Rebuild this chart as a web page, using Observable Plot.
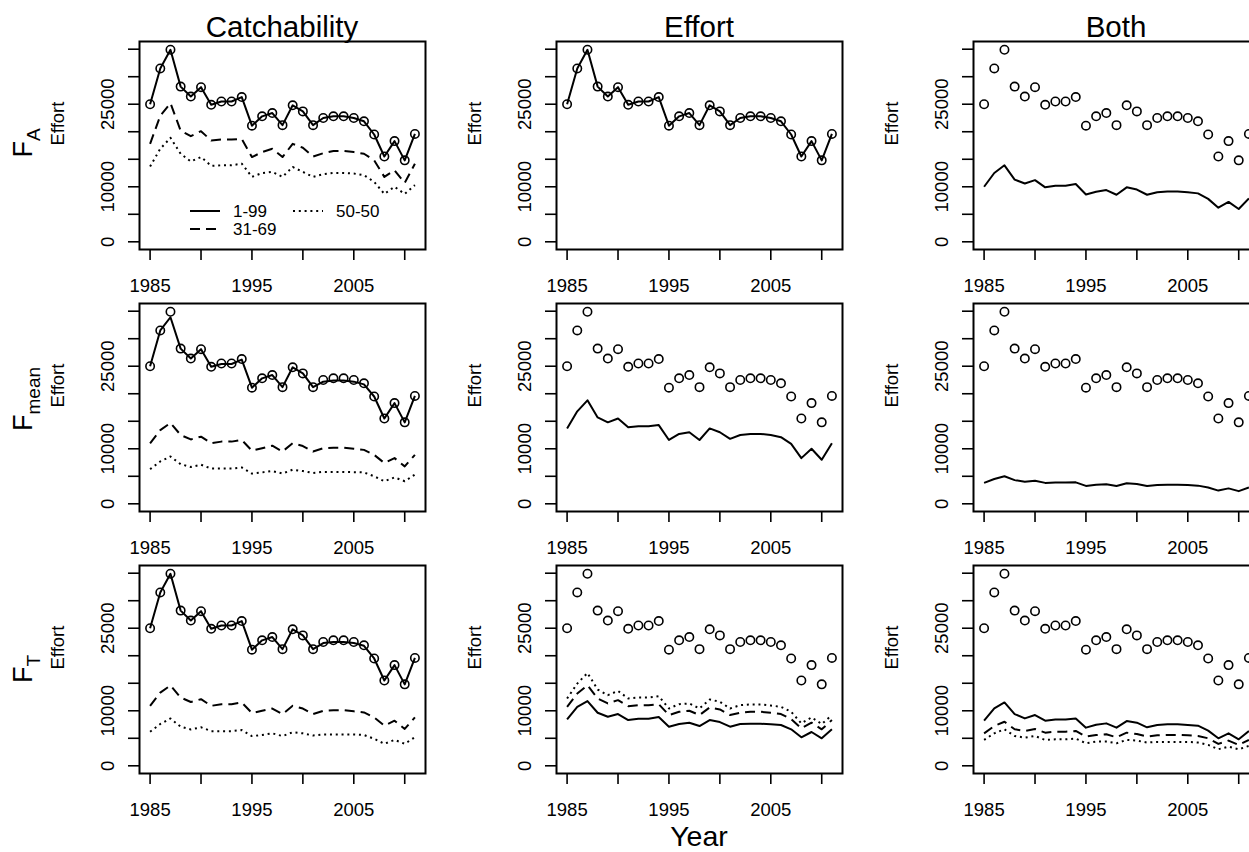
<!DOCTYPE html>
<html>
<head>
<meta charset="utf-8">
<script src="https://cdn.jsdelivr.net/npm/d3@7"></script>
<script src="https://cdn.jsdelivr.net/npm/@observablehq/plot@0.6"></script>
<style>
html, body { margin: 0; padding: 0; background: #fff; overflow: hidden; }
#wrap { position: relative; width: 1249px; height: 852px; overflow: hidden; background: #fff; }
.panel { position: absolute; }
.panel svg { max-width: none !important; }
#overlay { position: absolute; left: 0; top: 0; }
</style>
</head>
<body>
<div id="wrap"></div>
<script>
// ---------------- data ----------------
const years = [1985,1986,1987,1988,1989,1990,1991,1992,1993,1994,1995,1996,1997,1998,1999,2000,2001,2002,2003,2004,2005,2006,2007,2008,2009,2010,2011];

// observed effort (circles)
const effort = [25000,31500,34900,28200,26400,28100,24900,25500,25500,26300,21100,22800,23400,21200,24800,23700,21200,22500,22800,22800,22500,21900,19500,15500,18300,14800,19600];

// row F_A
const catchA_1_99  = [25000,31500,34900,28200,26400,28100,24900,25500,25500,26300,21100,22800,23400,21200,24800,23700,21200,22500,22800,22800,22500,21900,19500,15500,18300,14800,19600];
const catchA_31_69 = [17800,22900,25200,20200,19200,20100,18400,18600,18600,18700,15400,16300,16900,15400,17800,17100,15500,16100,16500,16500,16300,16000,14800,11800,13000,10700,14200];
const catchA_50_50 = [13700,16900,18900,16000,14600,15400,13800,13900,13900,14200,11800,12500,12700,11800,13600,12700,11800,12300,12500,12500,12400,12100,10900,8700,10000,8700,10300];
const effA_1_99    = [25000,31500,34900,28200,26400,28100,24900,25500,25500,26300,21100,22800,23400,21200,24800,23700,21200,22500,22800,22800,22500,21900,19500,15500,18300,14800,19600];
const bothA_1_99   = [10000,12500,13900,11300,10600,11200,9900,10200,10200,10500,8600,9100,9400,8550,9900,9500,8550,9000,9150,9150,9000,8800,7800,6200,7250,5950,7900];

// row F_mean
const catchM_1_99  = [25000,31500,33900,28200,26400,28100,24900,25400,25400,26200,21100,22800,23400,21200,24800,23700,21200,22200,22400,22400,22200,21700,19500,15500,18300,14800,19600];
const catchM_31_69 = [11000,13400,14700,12500,11700,12200,11000,11300,11300,11600,9650,10100,10550,9500,11000,10500,9500,10100,10200,10200,10000,9800,8900,7400,8300,6800,8900];
const catchM_50_50 = [6300,7700,8600,7200,6700,7100,6400,6400,6400,6600,5500,5700,5950,5500,6200,5950,5600,5800,5800,5800,5750,5700,5000,4100,4800,4100,5300];
const effM_1_99    = [13700,16800,18800,15700,14800,15500,13900,14100,14100,14300,11600,12700,13000,11600,13700,13000,11800,12500,12700,12700,12500,12100,10900,8300,10000,8000,11000];
const bothM_1_99   = [3800,4500,5000,4300,4000,4200,3800,3850,3850,3900,3250,3450,3550,3250,3750,3600,3250,3400,3450,3450,3400,3300,2950,2400,2800,2300,2950];

// row F_T
const catchT_1_99  = [25000,31500,34900,28200,26400,28100,24900,25500,25500,26300,21100,22800,23400,21200,24800,23700,21200,22300,22500,22500,22300,21800,19500,15500,18300,14800,19600];
const catchT_31_69 = [10900,13300,14600,12400,11600,12100,10900,11200,11200,11500,9600,10000,10400,9400,10900,10400,9400,10000,10100,10100,9900,9700,8800,7300,8200,6700,8800];
const catchT_50_50 = [6200,7600,8600,7100,6600,7000,6300,6300,6300,6500,5400,5600,5900,5400,6100,5900,5500,5700,5700,5700,5700,5600,4900,4000,4700,4000,5200];
const effT_1_99    = [8430,10720,11750,9640,8920,9400,8310,8550,8550,8860,7110,7590,7830,7230,8310,7950,7110,7590,7650,7650,7530,7410,6630,5180,6140,5000,6630];
const effT_31_69   = [10720,13130,14640,12230,11330,11930,10840,11020,11020,11200,9220,9820,10000,9220,10600,10240,9220,9640,9820,9820,9640,9400,8490,6810,7830,6630,8310];
const effT_50_50   = [12230,14940,16870,13860,12830,13610,12230,12410,12410,12650,10420,11200,11330,10420,12050,11630,10420,11020,11140,11140,10960,10720,9820,7710,8800,7590,9220];
const bothT_1_99   = [8190,10420,11510,9400,8610,9220,8190,8430,8430,8610,6930,7470,7710,6930,8130,7830,6990,7410,7530,7530,7410,7290,6390,5000,5900,4820,6330];
const bothT_31_69  = [5900,7230,8010,6630,6330,6690,6020,6200,6200,6330,5300,5600,5720,5180,6020,5780,5300,5540,5600,5600,5540,5420,5000,3980,4580,3800,4700];
const bothT_50_50  = [4700,5900,6630,5420,5120,5420,4700,4820,4820,4940,4100,4400,4400,4100,4700,4580,4220,4340,4340,4340,4340,4220,3800,3010,3490,3010,3610];

// labels and ticks
const colTitles = ["Catchability", "Effort", "Both"];
const rowMain = ["F", "F", "F"];
const rowSub = ["A", "mean", "T"];
const yLabelText = "Effort";
const xLabelText = "Year";
const legendLabels = ["1-99", "31-69", "50-50"];
const xTicks = [1985, 1990, 1995, 2000, 2005, 2010];
const xTickLabels = [1985, 1995, 2005];
const yTicks = [0, 5000, 10000, 15000, 20000, 25000, 30000, 35000];
const yTickLabels = [0, 10000, 25000];

const panels = [
  {row: 0, col: 0, lines: [["1-99", catchA_1_99], ["31-69", catchA_31_69], ["50-50", catchA_50_50]]},
  {row: 0, col: 1, lines: [["1-99", effA_1_99]]},
  {row: 0, col: 2, lines: [["1-99", bothA_1_99]]},
  {row: 1, col: 0, lines: [["1-99", catchM_1_99], ["31-69", catchM_31_69], ["50-50", catchM_50_50]]},
  {row: 1, col: 1, lines: [["1-99", effM_1_99]]},
  {row: 1, col: 2, lines: [["1-99", bothM_1_99]]},
  {row: 2, col: 0, lines: [["1-99", catchT_1_99], ["31-69", catchT_31_69], ["50-50", catchT_50_50]]},
  {row: 2, col: 1, lines: [["1-99", effT_1_99], ["31-69", effT_31_69], ["50-50", effT_50_50]]},
  {row: 2, col: 2, lines: [["1-99", bothT_1_99], ["31-69", bothT_31_69], ["50-50", bothT_50_50]]}
];

// ---------------- layout / style ----------------
const FONT = "'Liberation Sans', Arial, Helvetica, sans-serif";
const boxLeft = [139, 556, 973];
const boxTop = [41, 303, 565];
const BW = 286, BH = 208;
const ML = 100, MT = 6, MR = 8, MB = 56;
const dashFor = {"1-99": null, "31-69": "10,6", "50-50": "2,3.8"};

const wrap = document.getElementById("wrap");
const obs = years.map((y, i) => ({year: y, value: effort[i]}));

panels.forEach(p => {
  const marks = [];
  p.lines.forEach(([name, vals]) => {
    const rows = years.map((y, i) => ({year: y, value: vals[i]}));
    marks.push(Plot.line(rows, {
      x: "year", y: "value", stroke: "black", strokeWidth: 2,
      strokeDasharray: dashFor[name], strokeLinecap: "butt", strokeLinejoin: "round"
    }));
  });
  marks.push(Plot.dot(obs, {x: "year", y: "value", r: 4.2, stroke: "black", strokeWidth: 1.6, fill: "none"}));
  marks.push(Plot.frame({stroke: "black", strokeWidth: 2}));
  // tick marks (labels drawn separately so their size is controlled)
  marks.push(Plot.axisX({ticks: xTicks, tickFormat: () => "", tickSize: 11, strokeWidth: 1.6, label: null}));
  marks.push(Plot.axisY({ticks: yTicks, tickFormat: () => "", tickSize: 11, strokeWidth: 1.6, label: null}));
  // tick labels, placed through the scales
  marks.push(Plot.text(xTickLabels, {
    x: d => d, text: d => String(d), frameAnchor: "bottom", lineAnchor: "top",
    dy: 29, fontSize: 18.5, fill: "black"
  }));
  marks.push(Plot.text(yTickLabels, {
    y: d => d, text: d => String(d), frameAnchor: "left", lineAnchor: "bottom",
    textAnchor: "middle", rotate: -90, dx: -26, fontSize: 18.5, fill: "black"
  }));
  marks.push(Plot.text([yLabelText], {text: d => d, frameAnchor: "left", rotate: -90, dx: -81, fontSize: 18.5}));

  const svg = Plot.plot({
    width: ML + BW + MR,
    height: MT + BH + MB,
    marginLeft: ML, marginRight: MR, marginTop: MT, marginBottom: MB,
    x: {domain: [1983.96, 2012.04], label: null},
    y: {domain: [-1400, 36400], label: null},
    style: {fontFamily: FONT, fontSize: "18px", color: "black", background: "white", overflow: "visible"},
    marks
  });
  const div = document.createElement("div");
  div.className = "panel";
  div.style.left = (boxLeft[p.col] - ML) + "px";
  div.style.top = (boxTop[p.row] - MT) + "px";
  div.style.width = (ML + BW + MR) + "px";
  div.appendChild(svg);
  wrap.appendChild(div);
});

// ---------------- overlay text (titles, row labels, legend) ----------------
const ov = d3.create("svg")
  .attr("id", "overlay")
  .attr("width", 1249).attr("height", 852)
  .style("font-family", FONT)
  .style("pointer-events", "none");

colTitles.forEach((t, c) => {
  ov.append("text")
    .attr("x", boxLeft[c] + BW / 2).attr("y", 36.5)
    .attr("text-anchor", "middle").attr("font-size", 29.5)
    .text(t);
});

const rowCenters = [143, 399, 669];
rowMain.forEach((m, r) => {
  const t = ov.append("text")
    .attr("transform", `translate(32,${rowCenters[r]}) rotate(-90)`)
    .attr("text-anchor", "middle");
  t.append("tspan").attr("font-size", 27).text(m);
  t.append("tspan").attr("font-size", 19).attr("dy", 8).text(rowSub[r]);
});

ov.append("text")
  .attr("x", boxLeft[1] + BW / 2).attr("y", 846)
  .attr("text-anchor", "middle").attr("font-size", 28.5)
  .text(xLabelText);

// legend in first panel
const leg = [
  {name: legendLabels[0], x: 190, y: 211},
  {name: legendLabels[1], x: 190, y: 229},
  {name: legendLabels[2], x: 293, y: 211}
];
leg.forEach(l => {
  ov.append("line")
    .attr("x1", l.x).attr("x2", l.x + 30).attr("y1", l.y).attr("y2", l.y)
    .attr("stroke", "black").attr("stroke-width", 2)
    .attr("stroke-dasharray", dashFor[l.name]);
  ov.append("text")
    .attr("x", l.x + 43).attr("y", l.y + 6)
    .attr("font-size", 17)
    .text(l.name);
});

wrap.appendChild(ov.node());
</script>
</body>
</html>
